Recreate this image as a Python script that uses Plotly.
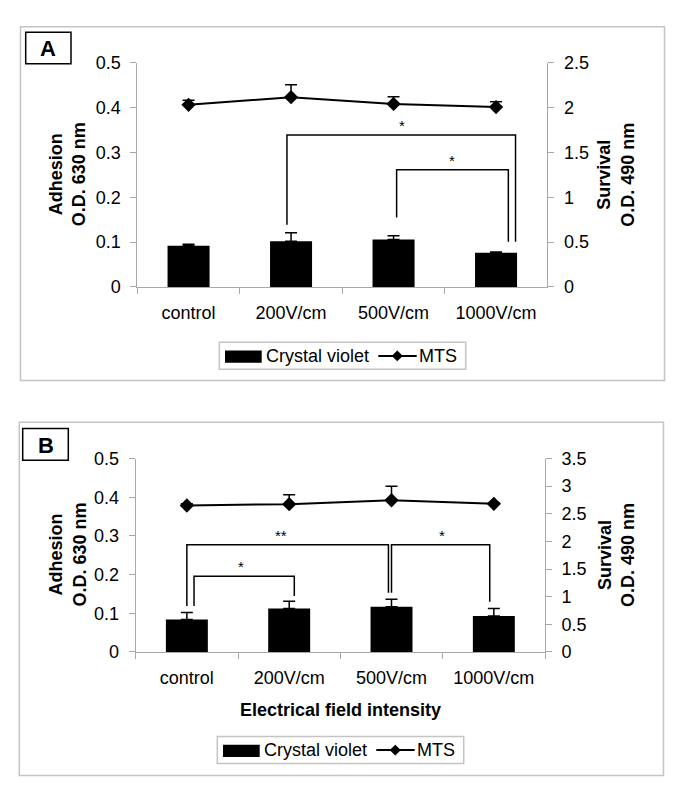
import plotly.graph_objects as go

W, H = 685, 804

categories = ['control', '200V/cm', '500V/cm', '1000V/cm']

# panel A
cv_a = [0.092, 0.102, 0.106, 0.076]
cv_a_err = [0.003, 0.019, 0.008, 0.002]
mts_a = [2.03, 2.115, 2.04, 2.005]
mts_a_err = [0.05, 0.14, 0.08, 0.06]

# panel B
cv_b = [0.084, 0.112, 0.117, 0.093]
cv_b_err = [0.018, 0.019, 0.019, 0.019]
mts_b = [2.65, 2.675, 2.745, 2.68]
mts_b_err = [0.03, 0.17, 0.255, 0.02]

# significance brackets: (x_left, x_right, y_top, y_left_end, y_right_end, label, label_x)
brackets_a = [
    (0.96, 3.19, 0.339, 0.1386, 0.1006, '*', 2.08),
    (2.03, 3.12, 0.2614, 0.155, 0.1006, '*', 2.57),
]
brackets_b = [
    (0.0, 1.97, 0.277, 0.119, 0.153, '**', 0.92),
    (2.0, 2.96, 0.277, 0.153, 0.130, '*', 2.49),
    (0.07, 1.05, 0.196, 0.119, 0.1445, '*', 0.53),
]

FONT = "Liberation Sans, Arial, sans-serif"
GREY = '#a8a8a8'


def px(x):
    return x / W


def py(y):
    return 1 - y / H


def note(x, y, text, size=18, xanchor='center', angle=0):
    # pixel-positioned paper annotation
    return dict(x=px(x), y=py(y), xref='paper', yref='paper', text=text, showarrow=False,
                xanchor=xanchor, yanchor='middle', textangle=angle,
                font=dict(size=size, color='black'))


fig = go.Figure()


def add_panel(xa, ya, ya2, cv, cv_err, mts, mts_err):
    fig.add_trace(go.Bar(
        x=categories, y=cv, xaxis=xa, yaxis=ya,
        marker=dict(color='black', line=dict(width=0)),
        error_y=dict(type='data', array=cv_err, arrayminus=[0] * 4, symmetric=False,
                     color='black', thickness=1.5, width=6),
        name='Crystal violet', showlegend=False,
    ))
    fig.add_trace(go.Scatter(
        x=categories, y=mts, xaxis=xa, yaxis=ya2, mode='lines+markers',
        line=dict(color='black', width=2),
        marker=dict(symbol='diamond', size=11, color='black'),
        error_y=dict(type='data', array=mts_err, arrayminus=[0] * 4, symmetric=False,
                     color='black', thickness=1.5, width=6),
        name='MTS', showlegend=False,
    ))


add_panel('x', 'y', 'y2', cv_a, cv_a_err, mts_a, mts_a_err)
add_panel('x2', 'y3', 'y4', cv_b, cv_b_err, mts_b, mts_b_err)

xcommon = dict(type='category', range=[-0.5, 3.5], showline=True, linecolor=GREY, linewidth=1,
               ticks='outside', tickson='boundaries', ticklen=6, tickcolor=GREY,
               ticklabelstandoff=9, showgrid=False, tickfont=dict(size=18))
ycommon = dict(showline=True, linecolor=GREY, linewidth=1, ticks='outside', ticklen=6,
               tickcolor=GREY, showgrid=False, zeroline=False, ticklabelstandoff=6,
               tickfont=dict(size=18))
# inner half of Excel-style "cross" tick marks
inner = dict(ticks='inside', ticklen=5, tickcolor=GREY, showline=False, showgrid=False,
             zeroline=False, showticklabels=False)
cat_bounds = [-0.5, 0.5, 1.5, 2.5, 3.5]

fig.update_layout(
    xaxis=dict(domain=[px(137.3), px(547.3)], anchor='y', **xcommon),
    yaxis=dict(domain=[py(284), py(54)], range=[0, 0.5], dtick=0.1, anchor='x', **ycommon),
    yaxis2=dict(range=[0, 2.5], dtick=0.5, overlaying='y', side='right', anchor='x', **ycommon),
    xaxis2=dict(domain=[px(135.7), px(545)], anchor='y3', **xcommon),
    yaxis3=dict(domain=[py(658.3), py(460)], range=[0, 0.5], dtick=0.1, anchor='x2', **ycommon),
    yaxis4=dict(range=[0, 3.5], dtick=0.5, overlaying='y3', side='right', anchor='x2', **ycommon),
    xaxis3=dict(overlaying='x', anchor='y', range=[-0.5, 3.5], tickvals=cat_bounds, **inner),
    xaxis4=dict(overlaying='x2', anchor='y3', range=[-0.5, 3.5], tickvals=cat_bounds, **inner),
    yaxis5=dict(overlaying='y', anchor='x', range=[0, 0.5], dtick=0.1, **inner),
    yaxis6=dict(overlaying='y', anchor='x', side='right', range=[0, 2.5], dtick=0.5, **inner),
    yaxis7=dict(overlaying='y3', anchor='x2', range=[0, 0.5], dtick=0.1, **inner),
    yaxis8=dict(overlaying='y3', anchor='x2', side='right', range=[0, 3.5], dtick=0.5, **inner),
)

shapes = []
annotations = []


def add_brackets(brackets, xref, yref):
    for x0, x1, top, yl, yr, label, lx in brackets:
        shapes.append(dict(type='path', xref=xref, yref=yref,
                           path=f'M {x0},{yl} L {x0},{top} L {x1},{top} L {x1},{yr}',
                           line=dict(color='black', width=1.5)))
        annotations.append(dict(x=lx, y=top, xref=xref, yref=yref, text=label,
                                showarrow=False, xanchor='center', yanchor='bottom', yshift=-1,
                                font=dict(size=15, color='black')))


add_brackets(brackets_a, 'x', 'y')
add_brackets(brackets_b, 'x2', 'y3')


def add_frame(x0, y0, x1, y1, letter, bx0, by0, bx1, by1, ycenter, lx, ly):
    shapes.append(dict(type='rect', xref='paper', yref='paper',
                       x0=px(x0), x1=px(x1), y0=py(y1), y1=py(y0),
                       line=dict(color='#c4c4c4', width=1.5), layer='below'))
    shapes.append(dict(type='rect', xref='paper', yref='paper',
                       x0=px(bx0), x1=px(bx1), y0=py(by1), y1=py(by0),
                       line=dict(color='black', width=1.5)))
    annotations.append(note((bx0 + bx1) / 2, (by0 + by1) / 2 + 1, f'<b>{letter}</b>', size=22))
    annotations.append(note(67.5, ycenter, '<b>Adhesion</b><br><b>O.D. 630 nm</b>', angle=-90))
    annotations.append(note(616, ycenter, '<b>Survival</b><br><b>O.D. 490 nm</b>', angle=-90))
    # legend box
    shapes.append(dict(type='rect', xref='paper', yref='paper',
                       x0=px(lx), x1=px(lx + 246.4), y0=py(ly + 27.6), y1=py(ly),
                       line=dict(color='#c4c4c4', width=1.5)))
    shapes.append(dict(type='rect', xref='paper', yref='paper',
                       x0=px(lx + 5.7), x1=px(lx + 42.4), y0=py(ly + 21), y1=py(ly + 8.6),
                       fillcolor='black', line=dict(width=0)))
    annotations.append(note(lx + 45, ly + 14, 'Crystal violet', xanchor='left'))
    shapes.append(dict(type='line', xref='paper', yref='paper',
                       x0=px(lx + 159), x1=px(lx + 197.4), y0=py(ly + 14), y1=py(ly + 14),
                       line=dict(color='black', width=2)))
    cx, cy = lx + 178, ly + 14
    shapes.append(dict(type='path', xref='paper', yref='paper',
                       path=f'M {px(cx - 5)},{py(cy)} L {px(cx)},{py(cy - 5)} '
                            f'L {px(cx + 5)},{py(cy)} L {px(cx)},{py(cy + 5)} Z',
                       fillcolor='black', line=dict(color='black', width=1)))
    annotations.append(note(lx + 198, ly + 14, 'MTS', xanchor='left'))


add_frame(20.5, 17.3, 664.5, 380, 'A', 25.7, 22.7, 71, 55, 169, 219.3, 340.7)
add_frame(19.3, 422.7, 663.5, 785, 'B', 22.7, 429.3, 68.3, 461.7, 559, 217.3, 745)

annotations.append(note(340, 717.7, '<b>Electrical field intensity</b>'))

fig.update_layout(
    width=W, height=H,
    margin=dict(l=0, r=0, t=0, b=0),
    paper_bgcolor='white', plot_bgcolor='white',
    font=dict(family=FONT, size=18, color='black'),
    showlegend=False, bargap=0.59,
    shapes=shapes, annotations=annotations,
)

fig.write_html("out.html", config={'displayModeBar': False},
               post_script="document.body.style.margin = '0px';")
